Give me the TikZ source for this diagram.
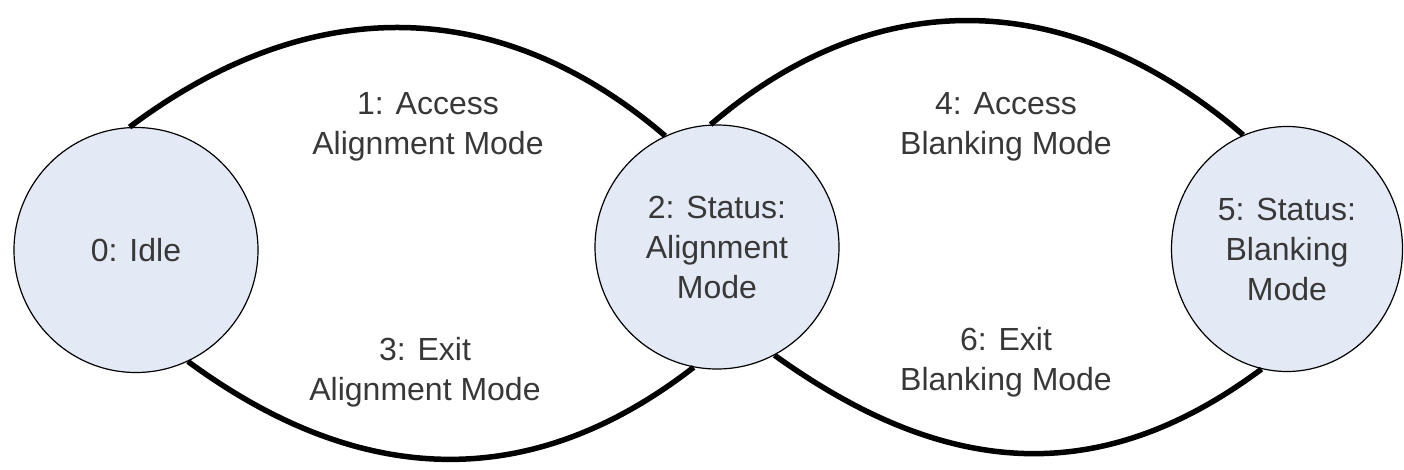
\documentclass[tikz,border=0pt]{standalone}
\usepackage{fontspec}
\setmainfont{Liberation Sans}
\usetikzlibrary{shapes.geometric}

\definecolor{statefill}{HTML}{E4EAF5}
\definecolor{labeltext}{HTML}{383838}

\begin{document}
\begin{tikzpicture}[x=1pt, y=-1pt,
    state/.style={draw, ellipse, fill=statefill, line width=1.2pt, inner sep=0pt,
                  align=center, text=labeltext, font=\fontsize{32}{40}\selectfont},
    trans/.style={line width=5.5pt},
    lbl/.style={align=center, text=labeltext, font=\fontsize{32}{40}\selectfont}]
  \useasboundingbox (0,0) rectangle (1404,469);

  \node (idle)  [state, minimum width=244pt, minimum height=245pt] at (136,250)
    {0: Idle};
  \node (align) [state, minimum width=244pt, minimum height=244pt] at (717,247)
    {2: Status:\\Alignment\\Mode};
  \node (blank) [state, minimum width=231pt, minimum height=245pt] at (1287,249)
    {5: Status:\\Blanking\\Mode};

  \draw[trans] (idle.93) .. controls +(185,-139) and +(-161,-138) .. (align.115);
  \draw[trans] (align.93) .. controls +(169,-145) and +(-170,-146) .. (blank.111);
  \draw[trans] (idle.-65) .. controls +(170,125) and +(-165,128) .. (align.-101);
  \draw[trans] (align.-62) .. controls +(167,120) and +(-165,123) .. (blank.-102);

  \node (acc1)  [lbl] at (428,127) {1: Access\\Alignment Mode};
  \node (exit3) [lbl] at (425,372) {3: Exit\\Alignment Mode};
  \node (acc4)  [lbl] at (1006,127) {4: Access\\Blanking Mode};
  \node (exit6) [lbl] at (1006,362) {6: Exit\\Blanking Mode};
\end{tikzpicture}
\end{document}
